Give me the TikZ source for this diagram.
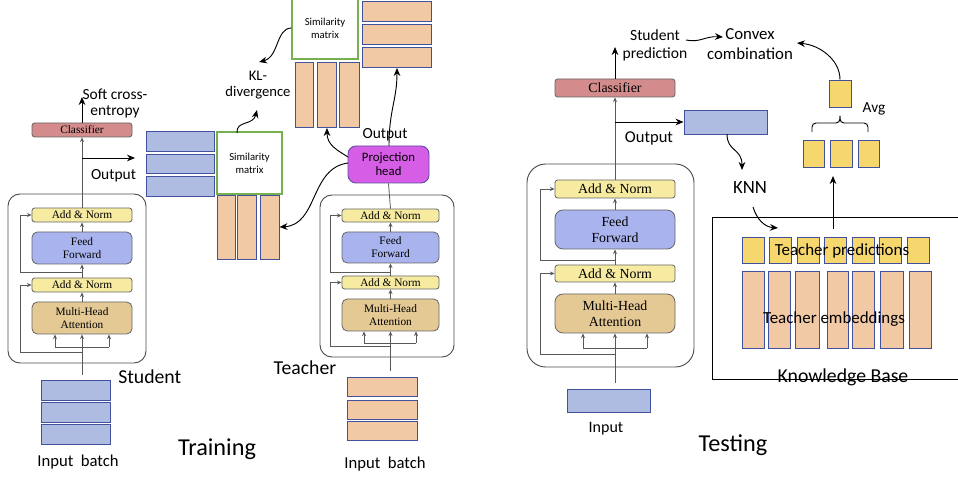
\documentclass[tikz,border=0pt]{standalone}
\usepackage{fontspec}
\setmainfont{Carlito}
\newfontfamily\tfont{Liberation Serif}
\usetikzlibrary{arrows.meta}
\newcommand\fsz[2]{\fontsize{#1}{#2}\selectfont}
\definecolor{bluefill}{HTML}{AFBCE2}
\definecolor{embline}{HTML}{41519C}
\definecolor{tanfill}{HTML}{F1C9A5}
\definecolor{ylwfill}{HTML}{F5D76E}
\definecolor{anfill}{HTML}{F7EBA1}
\definecolor{fffill}{HTML}{A9B3EE}
\definecolor{mhafill}{HTML}{E4C995}
\definecolor{clsfill}{HTML}{D38B8B}
\definecolor{projfill}{HTML}{D65DE5}
\definecolor{projline}{HTML}{5E4F9F}
\definecolor{simgreen}{HTML}{78B050}
\begin{document}
\begin{tikzpicture}[x=0.75pt,y=-0.75pt,
  px/.style 2 args={minimum width=#1*0.75pt, minimum height=#2*0.75pt},
  tb/.style={draw=black!60, line width=0.6pt, rounded corners=2pt, inner sep=0pt, align=center},
  sfont/.style={font=\tfont\fsz{8.5}{9.8}},
  xfont/.style={font=\tfont\fsz{10.4}{11.8}},
  an/.style={tb, fill=anfill},
  ff/.style={tb, fill=fffill, rounded corners=4pt},
  mha/.style={tb, fill=mhafill, rounded corners=4pt},
  cls/.style={tb, fill=clsfill},
  emb/.style={draw=embline, fill=bluefill, line width=0.7pt, inner sep=0pt},
  tanbox/.style={draw=embline, fill=tanfill, line width=0.7pt, inner sep=0pt},
  ylw/.style={draw=embline, fill=ylwfill, line width=0.7pt, inner sep=0pt},
  sim/.style={draw=simgreen, fill=white, line width=0.8pt, inner sep=0pt, align=center, font=\fsz{8}{9.8}},
  block/.style={draw=black!70, line width=0.7pt, rounded corners=9pt, inner sep=0pt},
  gl/.style={draw=black!65, line width=0.6pt},
  garr/.style={gl, -{Stealth[length=3.5pt,width=3pt]}},
  arr/.style={draw=black, line width=0.7pt, -{Stealth[length=6pt,width=5pt]}},
  lbl/.style={inner sep=0pt, align=center}]
\useasboundingbox (0,0) rectangle (958,477);
\clip (0,0) rectangle (958,477);

% ===================== Student =====================
\node[block,px={138}{169}] (sblk) at (77,278.5) {};
\node[an,sfont,px={100}{14}] (san2) at (82,215) {Add \& Norm};
\node[ff,sfont,px={100}{32}] (sff) at (82,248) {Feed\\Forward};
\node[an,sfont,px={100}{14}] (san1) at (82,285) {Add \& Norm};
\node[mha,sfont,px={100}{32}] (smha) at (82,318) {Multi-Head\\Attention};
\node[cls,sfont,px={100}{14}] (scls) at (82,130) {Classifier};
\node[emb,px={69}{20}] (sin1) at (75.5,390) {};
\node[emb,px={69}{20}] (sin2) at (75.5,412.5) {};
\node[emb,px={69}{20}] (sin3) at (75.5,434) {};
\coordinate (sbot) at (82,375);
\coordinate (sfan) at (82,347);
\coordinate (sfl) at (55,347);
\coordinate (sfr) at (109,347);
\coordinate (sr1a) at (82,352);
\coordinate (sr1b) at (20,352);
\coordinate (sr2a) at (82,272);
\coordinate (sr2b) at (20,272);
\draw[gl] (sbot) -- (sfan);
\draw[gl] (sfl) -- (sfr);
\draw[garr] (sfl) -- (sfl |- smha.south);
\draw[garr] (sfr) -- (sfr |- smha.south);
\draw[garr] (sfan) -- (smha.south);
\draw[garr] (smha.north) -- (san1.south);
\draw[garr] (san1.north) -- (sff.south);
\draw[garr] (sff.north) -- (san2.south);
\draw[garr] (san2.north) -- (scls.south);
\draw[garr] (sr1a) -- (sr1b) |- (san1.west);
\draw[garr] (sr2a) -- (sr2b) |- (san2.west);
\coordinate (souts) at (82,158);
\coordinate (soute) at (135,158);
\draw[arr] (souts) -- (soute);
\coordinate (scetop) at (82,97);
\draw[arr] (scls.north) -- (scetop);
\node[lbl,font=\fsz{11.6}{12}] (sce) at (115,103) {Soft cross-\\entropy};
\node[lbl,font=\fsz{11.6}{12}] (soutl) at (113.5,176) {Output};
\node[lbl,font=\fsz{14.8}{16},anchor=west] (sname) at (118,377) {Student};
\node[lbl,font=\fsz{12.5}{14}] (sinl) at (78,462) {Input\ \ batch};
\node[lbl,font=\fsz{18.2}{20}] (train) at (217,449) {Training};

% ===================== Middle (similarities) =====================
\node[emb,px={68}{19.5}] (sr1) at (180,141.5) {};
\node[emb,px={68}{19.5}] (sr2) at (180,164) {};
\node[emb,px={68}{19.5}] (sr3) at (180,186.5) {};
\node[sim,px={65}{62}] (lsim) at (249.5,163) {Similarity\\matrix};
\node[tanbox,px={18}{64}] (lc1) at (226,227) {};
\node[tanbox,px={19}{64}] (lc2) at (246.5,227) {};
\node[tanbox,px={19}{64}] (lc3) at (269.5,227) {};
\node[sim,px={66}{62}] (usim) at (325,28) {Similarity\\matrix};
\node[tanbox,px={18}{65}] (uc1) at (304,94.5) {};
\node[tanbox,px={19}{65}] (uc2) at (326.5,94.5) {};
\node[tanbox,px={20}{65}] (uc3) at (349,94.5) {};
\node[tanbox,px={69}{20}] (tr1) at (396.5,11.5) {};
\node[tanbox,px={69}{20}] (tr2) at (396.5,34) {};
\node[tanbox,px={69}{20}] (tr3) at (396.5,57) {};
\node[lbl,font=\fsz{11}{12}] (kl) at (258,85) {KL-\\divergence};
\node[draw=projline,fill=projfill,line width=0.7pt,rounded corners=6pt,inner sep=0pt,align=center,font=\fsz{9.6}{10.5},px={81}{37}] (proj) at (388.5,164.5) {Projection\\head};
\node[lbl,font=\fsz{11.6}{12}] (toutl) at (385,135) {Output};
\coordinate (kla) at (237,133);
\coordinate (klb) at (257,110);
\draw[arr] (kla) .. controls (236,120) and (253,126) .. (klb);
\coordinate (klc) at (259,62);
\draw[arr] (usim.west) .. controls (276,28) and (279,57) .. (klc);
\coordinate (pa) at (389,146);
\coordinate (pb) at (397,68);
\draw[arr] (pa) .. controls (389,110) and (397,100) .. (pb);
\coordinate (pc) at (348,157);
\coordinate (pd) at (327,128);
\draw[arr] (pc) .. controls (337,150) and (327,145) .. (pd);
\coordinate (pe) at (348,163);
\draw[arr] (pe) .. controls (310,168) and (318,225) .. (lc3.east);

% ===================== Teacher =====================
\node[block,px={134}{162}] (tblk) at (387,276) {};
\node[an,sfont,px={97}{13}] (tan2) at (390.5,215.5) {Add \& Norm};
\node[ff,sfont,px={97}{31}] (tff) at (390.5,247.5) {Feed\\Forward};
\node[an,sfont,px={97}{13}] (tan1) at (390.5,282.5) {Add \& Norm};
\node[mha,sfont,px={97}{32}] (tmha) at (390.5,315) {Multi-Head\\Attention};
\node[tanbox,px={70}{19}] (ti1) at (382,386.5) {};
\node[tanbox,px={70}{19}] (ti2) at (382,409.5) {};
\node[tanbox,px={70}{19}] (ti3) at (382,431) {};
\coordinate (tbot) at (390.5,371);
\coordinate (tfan) at (390.5,343);
\coordinate (tfl) at (364,343);
\coordinate (tfr) at (416,343);
\coordinate (tr1a) at (390.5,346);
\coordinate (tr1b) at (330,346);
\coordinate (tr2a) at (390.5,272);
\coordinate (tr2b) at (330,272);
\draw[gl] (tbot) -- (tfan);
\draw[gl] (tfl) -- (tfr);
\draw[garr] (tfl) -- (tfl |- tmha.south);
\draw[garr] (tfr) -- (tfr |- tmha.south);
\draw[garr] (tfan) -- (tmha.south);
\draw[garr] (tmha.north) -- (tan1.south);
\draw[garr] (tan1.north) -- (tff.south);
\draw[garr] (tff.north) -- (tan2.south);
\draw[gl] (tan2.north) -- (proj.south);
\draw[garr] (tr1a) -- (tr1b) |- (tan1.west);
\draw[garr] (tr2a) -- (tr2b) |- (tan2.west);
\node[lbl,font=\fsz{14.8}{16}] (tname) at (305,368) {Teacher};
\node[lbl,font=\fsz{12.5}{14}] (tinl) at (385,464) {Input\ \ batch};

% ===================== Testing =====================
\node[block,rounded corners=14pt,px={167}{203}] (xblk) at (610.5,265.5) {};
\node[an,xfont,px={120}{18}] (xan2) at (615,189) {Add \& Norm};
\node[ff,xfont,rounded corners=6pt,px={120}{39}] (xff) at (615,229.5) {Feed\\Forward};
\node[an,xfont,px={120}{17}] (xan1) at (615,273.5) {Add \& Norm};
\node[mha,xfont,rounded corners=6pt,px={120}{39}] (xmha) at (615,313.5) {Multi-Head\\Attention};
\node[cls,xfont,px={120}{18}] (xcls) at (615,88) {Classifier};
\node[emb,px={83}{23}] (xin) at (608.5,400.5) {};
\coordinate (xbot) at (615,383);
\coordinate (xfan) at (615,348);
\coordinate (xfl) at (583,348);
\coordinate (xfr) at (647,348);
\coordinate (xr1a) at (615,354);
\coordinate (xr1b) at (540,354);
\coordinate (xr2a) at (615,260);
\coordinate (xr2b) at (540,260);
\draw[gl] (xbot) -- (xfan);
\draw[gl] (xfl) -- (xfr);
\draw[garr] (xfl) -- (xfl |- xmha.south);
\draw[garr] (xfr) -- (xfr |- xmha.south);
\draw[garr] (xfan) -- (xmha.south);
\draw[garr] (xmha.north) -- (xan1.south);
\draw[garr] (xan1.north) -- (xff.south);
\draw[garr] (xff.north) -- (xan2.south);
\draw[garr] (xan2.north) -- (xcls.south);
\draw[garr] (xr1a) -- (xr1b) |- (xan1.west);
\draw[garr] (xr2a) -- (xr2b) |- (xan2.west);
\node[emb,px={83}{24}] (xout) at (725.5,122) {};
\coordinate (xouts) at (615,122);
\draw[arr] (xouts) -- (xout.west);
\node[lbl,font=\fsz{12.4}{13}] (xoutl) at (649,138) {Output};
\coordinate (xsptop) at (615,47);
\draw[arr] (xcls.north) -- (xsptop);
\node[lbl,font=\fsz{11.7}{13.5}] (xsp) at (655,45) {Student\\prediction};
\node[lbl,font=\fsz{12.6}{15}] (xcc) at (750,44) {Convex\\combination};
\coordinate (xspa) at (686,40);
\coordinate (xspb) at (723,37);
\draw[arr] (xspa) .. controls (700,43) and (705,36) .. (xspb);
\node[lbl,font=\fsz{14}{15}] (knn) at (750,188) {KNN};
\coordinate (xka) at (727,134);
\coordinate (xkb) at (742,170);
\draw[arr] (xka) .. controls (727,152) and (742,148) .. (xkb);
\coordinate (xkc) at (753,207);
\coordinate (xkd) at (778,228);
\draw[arr] (xkc) .. controls (757,220) and (765,227) .. (xkd);
% knowledge base
\node[draw=black,line width=0.8pt,inner sep=0pt,px={262}{162},anchor=north west] (kb) at (712,217) {};
\foreach \n/\x in {1/753,2/780,3/808,4/835,5/863,6/890.5,7/918}
  \node[ylw,px={22}{26}] (p\n) at (\x,250) {};
\foreach \n/\x/\w in {1/753/22,2/779/22,3/807/24,4/837.5/21,5/863/22,6/891.5/23,7/920/22}
  \node[tanbox,px={\w}{77}] (e\n) at (\x,309.5) {};
\node[lbl,font=\fsz{12.7}{14}] (tpl) at (842,251) {Teacher predictions};
\node[lbl,font=\fsz{12.7}{14}] (tel) at (834,319) {Teacher embeddings};
\node[lbl,font=\fsz{14.8}{16}] (kbl) at (843,377) {Knowledge Base};
% averaging
\node[ylw,px={21}{27}] (y1) at (813.5,153.5) {};
\node[ylw,px={22}{27}] (y2) at (841,153.5) {};
\node[ylw,px={21}{27}] (y3) at (868.5,153.5) {};
\coordinate (kbup) at (833,229);
\coordinate (trio) at (833,176);
\draw[arr] (kbup) -- (trio);
\draw[line width=0.7pt,rounded corners=3pt] (812,132) |- (840,123) -- (840,116);
\draw[line width=0.7pt,rounded corners=3pt] (868,132) |- (840,123) -- (840,116);
\node[ylw,px={22}{27}] (avg) at (840,93.5) {};
\node[lbl,font=\fsz{11.5}{13}] (avgl) at (874,109) {Avg};
\coordinate (cce) at (797,43);
\draw[arr] (avg.north) .. controls (840,60) and (820,45) .. (cce);
\node[lbl,font=\fsz{12}{13}] (xinl) at (606,429) {Input};
\node[lbl,font=\fsz{18.2}{20}] (xtest) at (733,445) {Testing};
\end{tikzpicture}
\end{document}
